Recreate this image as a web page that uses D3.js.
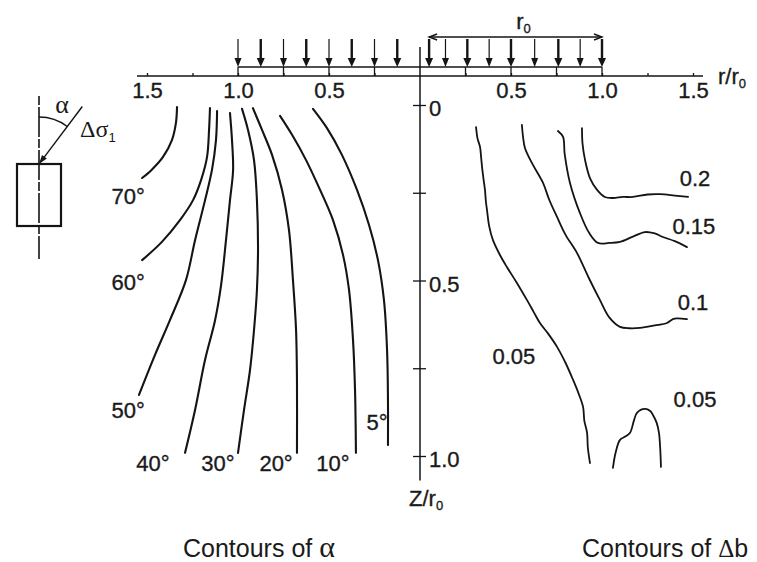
<!DOCTYPE html>
<html>
<head>
<meta charset="utf-8">
<script src="https://cdn.jsdelivr.net/npm/d3@7"></script>
<style>
  html, body { margin: 0; padding: 0; background: #fff; }
  svg { display: block; }
  text { font-family: "Liberation Sans", Arial, Helvetica, sans-serif; fill: #1a1a1a; }
  .serif { font-family: "Liberation Serif", "Times New Roman", serif; }
  .heavy { stroke: #1a1a1a; stroke-width: 0.35px; }
</style>
</head>
<body>
<svg id="chart" width="757" height="562"></svg>
<script>
// Contours of the principal stress rotation angle α (left half, r/r0 measured leftwards)
const alphaLevels = ["70°", "60°", "50°", "40°", "30°", "20°", "10°", "5°"];
const alpha70 = [[1.335,0.006],[1.341,0.051],[1.363,0.100],[1.412,0.148],[1.475,0.185],[1.527,0.208]];
const alpha60 = [[1.154,0.009],[1.159,0.071],[1.170,0.148],[1.203,0.214],[1.247,0.271],[1.319,0.328],[1.418,0.390],[1.527,0.442]];
const alpha50 = [[1.115,0.017],[1.121,0.100],[1.143,0.185],[1.181,0.271],[1.236,0.385],[1.286,0.499],[1.374,0.613],[1.456,0.712],[1.544,0.826]];
const alpha40 = [[1.044,0.023],[1.033,0.100],[1.027,0.185],[1.044,0.271],[1.066,0.385],[1.093,0.513],[1.126,0.613],[1.181,0.726],[1.236,0.869],[1.291,0.991]];
const alpha30 = [[0.978,0.011],[0.945,0.071],[0.912,0.157],[0.896,0.271],[0.890,0.413],[0.896,0.527],[0.912,0.641],[0.934,0.755],[0.967,0.869],[1.000,0.991]];
const alpha20 = [[0.918,0.009],[0.868,0.071],[0.813,0.142],[0.758,0.242],[0.720,0.356],[0.698,0.499],[0.681,0.641],[0.676,0.783],[0.676,0.991]];
const alpha10 = [[0.769,0.031],[0.703,0.085],[0.626,0.157],[0.549,0.242],[0.478,0.328],[0.423,0.427],[0.390,0.527],[0.368,0.670],[0.357,0.812],[0.352,0.991]];
const alpha5  = [[0.588,0.011],[0.511,0.066],[0.429,0.142],[0.346,0.242],[0.280,0.342],[0.231,0.442],[0.198,0.556],[0.181,0.698],[0.176,0.840],[0.176,0.969]];

// Contours of Δb (right half)
const dbLevels = ["0.2", "0.15", "0.1", "0.05", "0.05"];
const db020 = [[0.890,0.066],[0.893,0.110],[0.907,0.157],[0.935,0.210],[0.973,0.242],[1.015,0.262],[1.060,0.265],[1.115,0.262],[1.170,0.262],[1.250,0.255],[1.319,0.254],[1.400,0.258],[1.473,0.262]];
const db015 = [[0.758,0.074],[0.786,0.091],[0.795,0.140],[0.824,0.222],[0.879,0.308],[0.930,0.365],[0.978,0.393],[1.040,0.393],[1.099,0.390],[1.170,0.375],[1.236,0.362],[1.290,0.366],[1.335,0.376],[1.400,0.388],[1.467,0.405]];
const db010 = [[0.560,0.057],[0.566,0.090],[0.577,0.123],[0.620,0.170],[0.676,0.222],[0.710,0.270],[0.753,0.319],[0.800,0.370],[0.863,0.422],[0.925,0.490],[0.989,0.556],[1.040,0.605],[1.099,0.632],[1.150,0.636],[1.209,0.635],[1.290,0.628],[1.357,0.621],[1.390,0.610],[1.412,0.608],[1.467,0.610]];
const db005 = [[0.308,0.063],[0.316,0.095],[0.330,0.120],[0.336,0.150],[0.341,0.177],[0.350,0.215],[0.357,0.242],[0.362,0.275],[0.368,0.299],[0.380,0.345],[0.401,0.385],[0.440,0.428],[0.478,0.462],[0.530,0.505],[0.588,0.556],[0.625,0.590],[0.659,0.621],[0.705,0.652],[0.753,0.689],[0.800,0.735],[0.841,0.783],[0.870,0.820],[0.896,0.860],[0.903,0.900],[0.918,0.934],[0.922,0.975],[0.934,1.020]];
const db005b = [[1.060,1.034],[1.075,0.990],[1.099,0.954],[1.130,0.944],[1.154,0.934],[1.175,0.900],[1.192,0.877],[1.236,0.866],[1.265,0.872],[1.280,0.883],[1.300,0.905],[1.313,0.934],[1.320,0.980],[1.324,1.031]];

// Axis ticks and load arrows along the surface
const rTicks = [-1.5, -1.25, -1, -0.75, -0.5, -0.25, 0.25, 0.5, 0.75, 1, 1.25, 1.5];
const rLabels = [-1.5, -1, -0.5, 0.5, 1, 1.5];
const zTicks = [0, 0.25, 0.5, 0.75, 1];
const zLabels = [0, 0.5, 1];
const loadLeft = [1.0, 0.875, 0.75, 0.625, 0.5, 0.375, 0.25, 0.125];
const loadRight = [0.05, 0.14, 0.26, 0.38, 0.5, 0.63, 0.76, 0.88, 1.0];
const stripDividers = [-1, -0.75, -0.5, -0.25, 0.25, 0.5, 0.75, 1];

// Label anchors (data units; left half measured leftwards)
const alphaLabelAt = [[1.604,0.259],[1.604,0.504],[1.604,0.869],[1.467,1.020],[1.110,1.020],[0.791,1.020],[0.478,1.020],[0.236,0.903]];
const dbLabelAt = [[1.511,0.208],[1.505,0.345],[1.500,0.561],[0.516,0.715],[1.511,0.838]];

const svg = d3.select("#chart");
const x = d3.scaleLinear().domain([-1.5, 1.5]).range([147, 693]);
const y = d3.scaleLinear().domain([0, 1]).range([105, 456]);
const ink = "#141414";
const numFont = 22;

// --- horizontal surface axis (r/r0)
const axisY = 76;
const gx = svg.append("g").attr("transform", `translate(0,${axisY})`)
  .call(d3.axisBottom(x).tickValues(rTicks).tickSize(-3).tickPadding(6)
    .tickFormat(d => rLabels.includes(d) ? d3.format(".1f")(Math.abs(d)) : ""));
gx.select(".domain").remove();
gx.selectAll("line").attr("stroke", ink).attr("stroke-width", 1.3);
gx.selectAll("text").attr("font-size", numFont).attr("fill", "#1a1a1a").attr("class", "heavy")
  .style("font-family", "Liberation Sans, Arial, sans-serif");
svg.append("line").attr("x1", x.range()[0] - 10).attr("x2", x.range()[1] + 10)
  .attr("y1", axisY).attr("y2", axisY).attr("stroke", ink).attr("stroke-width", 1.5);

// loaded strip with dividers
const stripTop = axisY - 9;
svg.append("line").attr("x1", x(-1)).attr("x2", x(1)).attr("y1", stripTop).attr("y2", stripTop)
  .attr("stroke", ink).attr("stroke-width", 1.3);
svg.selectAll(".div").data(stripDividers).join("line")
  .attr("x1", d => x(d)).attr("x2", d => x(d)).attr("y1", stripTop).attr("y2", axisY)
  .attr("stroke", ink).attr("stroke-width", 1.3);

// load arrows
function loadArrow(px, thick) {
  const top = 39, tip = stripTop, hl = 9, hw = thick ? 4 : 3.5;
  svg.append("line").attr("x1", px).attr("x2", px).attr("y1", top).attr("y2", tip - hl + 1)
    .attr("stroke", ink).attr("stroke-width", thick ? 2.4 : 1.2);
  svg.append("path").attr("d", `M${px - hw},${tip - hl}L${px + hw},${tip - hl}L${px},${tip}Z`).attr("fill", ink);
}
loadLeft.forEach((r, i) => loadArrow(x(-r), i % 2 === 1));
loadRight.forEach((r, i) => loadArrow(x(r), i % 2 === 0));

// r0 dimension arrow
const dimY = 37;
const x0d = x(loadRight[0]), x1d = x(loadRight[loadRight.length - 1]);
svg.append("line").attr("x1", x0d).attr("x2", x1d).attr("y1", dimY).attr("y2", dimY)
  .attr("stroke", ink).attr("stroke-width", 1.6);
svg.append("path").attr("d", `M${x0d + 8},${dimY - 3}L${x0d},${dimY}L${x0d + 8},${dimY + 3}`).attr("fill", "none").attr("stroke", ink).attr("stroke-width", 1.4);
svg.append("path").attr("d", `M${x1d - 8},${dimY - 3}L${x1d},${dimY}L${x1d - 8},${dimY + 3}`).attr("fill", "none").attr("stroke", ink).attr("stroke-width", 1.4);
const r0 = svg.append("text").attr("x", (x0d + x1d) / 2 + 8).attr("y", 29).attr("text-anchor", "middle").attr("font-size", numFont).attr("class", "heavy");
r0.append("tspan").text("r");
r0.append("tspan").attr("font-size", 13).attr("dy", 4).text("0");

// r/r0 axis title
const rt = svg.append("text").attr("x", 718).attr("y", 84).attr("font-size", numFont).attr("class", "heavy");
rt.append("tspan").text("r/r");
rt.append("tspan").attr("font-size", 13).attr("dy", 4).text("0");

// --- vertical depth axis (Z/r0)
const axisX = x(0);
svg.append("line").attr("x1", axisX).attr("x2", axisX).attr("y1", y(-0.165)).attr("y2", y(1.07))
  .attr("stroke", ink).attr("stroke-width", 1.5);
const gy = svg.append("g").attr("transform", `translate(${axisX},0)`)
  .call(d3.axisRight(y).tickValues(zTicks).tickSize(6).tickPadding(3)
    .tickFormat(d => zLabels.includes(d) ? (d === 0 ? "0" : d3.format(".1f")(d)) : ""));
gy.select(".domain").remove();
gy.selectAll("line").attr("x1", -7).attr("stroke", ink).attr("stroke-width", 1.3);
gy.selectAll("text").attr("font-size", numFont).attr("dy", "0.48em").attr("fill", "#1a1a1a").attr("class", "heavy")
  .style("font-family", "Liberation Sans, Arial, sans-serif");
const zt = svg.append("text").attr("x", 409).attr("y", 506).attr("font-size", numFont).attr("class", "heavy");
zt.append("tspan").text("Z/r");
zt.append("tspan").attr("font-size", 13).attr("dy", 4).text("0");

// --- contour lines
const lineLeft = d3.line().x(d => x(-d[0])).y(d => y(d[1])).curve(d3.curveCatmullRom.alpha(0.5));
const lineRight = d3.line().x(d => x(d[0])).y(d => y(d[1])).curve(d3.curveCatmullRom.alpha(0.5));
const alphaCurves = [alpha70, alpha60, alpha50, alpha40, alpha30, alpha20, alpha10, alpha5];
svg.append("g").selectAll("path").data(alphaCurves).join("path")
  .attr("d", lineLeft).attr("fill", "none").attr("stroke", ink).attr("stroke-width", 2.1).attr("stroke-linecap", "round");
svg.append("g").selectAll("text").data(alphaLevels).join("text")
  .attr("x", (d, i) => x(-alphaLabelAt[i][0])).attr("y", (d, i) => y(alphaLabelAt[i][1]))
  .attr("dy", "0.36em").attr("text-anchor", "middle").attr("font-size", numFont).attr("class", "heavy").text(d => d);

const dbCurves = [db020, db015, db010, db005, db005b];
svg.append("g").selectAll("path").data(dbCurves).join("path")
  .attr("d", lineRight).attr("fill", "none").attr("stroke", ink).attr("stroke-width", 1.8).attr("stroke-linecap", "round");
svg.append("g").selectAll("text").data(dbLevels).join("text")
  .attr("x", (d, i) => x(dbLabelAt[i][0])).attr("y", (d, i) => y(dbLabelAt[i][1]))
  .attr("dy", "0.36em").attr("text-anchor", "middle").attr("font-size", numFont).attr("class", "heavy").text(d => d);

// --- element sketch: principal stress increment rotated by α from vertical
const sk = svg.append("g");
const cx = 39, topEl = 164, angle = 37 * Math.PI / 180, rad = 47, arrowLen = 72;
sk.append("line").attr("x1", cx).attr("x2", cx).attr("y1", 96).attr("y2", 259)
  .attr("stroke", ink).attr("stroke-width", 1.6).attr("stroke-dasharray", "9,2,30,2");
sk.append("rect").attr("x", 17).attr("y", topEl).attr("width", 44).attr("height", 62)
  .attr("fill", "none").attr("stroke", ink).attr("stroke-width", 2.2);
const ax1 = cx + arrowLen * Math.sin(angle), ay1 = topEl - arrowLen * Math.cos(angle);
sk.append("line").attr("x1", ax1).attr("y1", ay1).attr("x2", cx + 4 * Math.sin(angle)).attr("y2", topEl - 4 * Math.cos(angle))
  .attr("stroke", ink).attr("stroke-width", 1.4);
const hx = cx, hy = topEl, ux = Math.sin(angle), uy = -Math.cos(angle);
sk.append("path").attr("d", `M${hx},${hy}L${hx + 9 * ux - 3 * uy},${hy + 9 * uy + 3 * ux}L${hx + 9 * ux + 3 * uy},${hy + 9 * uy - 3 * ux}Z`).attr("fill", ink);
sk.append("path").attr("d", d3.arc()({ innerRadius: rad, outerRadius: rad, startAngle: 0, endAngle: angle }))
  .attr("transform", `translate(${cx},${topEl})`).attr("fill", "none").attr("stroke", ink).attr("stroke-width", 1.4);
sk.append("text").attr("class", "serif").attr("x", 62).attr("y", 113).attr("text-anchor", "middle").attr("font-size", 26).text("α");
const ds = sk.append("text").attr("class", "serif").attr("x", 80).attr("y", 137).attr("font-size", 24);
ds.append("tspan").text("Δσ");
ds.append("tspan").attr("font-size", 13).attr("dy", 5).style("font-family", "Liberation Sans, Arial, sans-serif").text("1");

// --- panel captions
const c1 = svg.append("text").attr("x", 183).attr("y", 557).attr("font-size", 25);
c1.append("tspan").text("Contours of ");
c1.append("tspan").attr("class", "serif").attr("font-size", 30).text("α");
const c2 = svg.append("text").attr("x", 582).attr("y", 557).attr("font-size", 25);
c2.append("tspan").text("Contours of ");
c2.append("tspan").attr("class", "serif").text("Δ");
c2.append("tspan").text("b");
</script>
</body>
</html>
